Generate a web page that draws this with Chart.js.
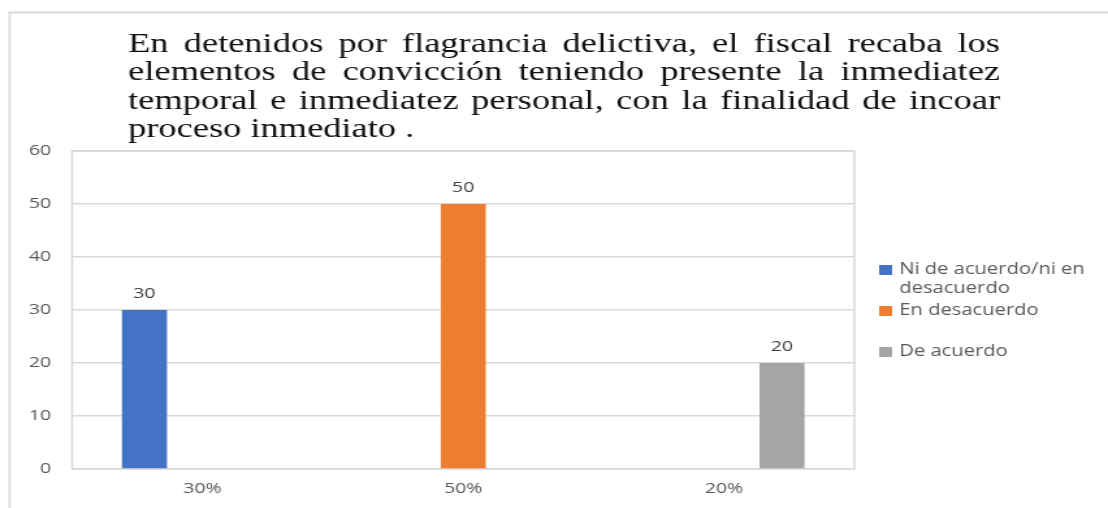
<!DOCTYPE html>
<html><head><meta charset="utf-8">
<script src="https://cdn.jsdelivr.net/npm/chart.js@4/dist/chart.umd.min.js"></script>
<style>
html,body{margin:0;padding:0;background:#fff;overflow:hidden;width:1108px;height:508px}
#wrap{position:absolute;left:0;top:0;width:852px;height:508px;transform:scaleX(1.3005);transform-origin:0 0}
canvas{display:block}
</style></head><body>
<div id="wrap"><canvas id="c" width="852" height="508"></canvas></div>
<script>
// ---- data ----
const titleLines = [
  'En detenidos por flagrancia delictiva, el fiscal recaba los',
  'elementos de convicción teniendo presente la inmediatez',
  'temporal e inmediatez personal, con la finalidad de incoar',
  'proceso inmediato .'
];
const categories = ['30%', '50%', '20%'];
const seriesNames = ['Ni de acuerdo/ni en desacuerdo', 'En desacuerdo', 'De acuerdo'];
const niDeAcuerdo = [30, null, null];
const enDesacuerdo = [null, 50, null];
const deAcuerdo = [null, null, 20];
const yMin = 0, yMax = 60, yStep = 10;

// ---- styles ----
const colors = ['#4472C4', '#ED7D31', '#A5A5A5'];
const GRID = '#d9d9d9';
const TXT = '#595959';
const SANS = '"Open Sans", "DejaVu Sans", sans-serif';

const framePlugin = {
  id: 'frame',
  beforeDraw(chart) {
    const ctx = chart.ctx;
    ctx.save();
    ctx.fillStyle = '#fff';
    ctx.fillRect(0, 0, chart.width, chart.height);
    ctx.fillStyle = GRID;
    ctx.fillRect(6.6, 11.5, 1.6, chart.height);
    ctx.fillRect(6.6, 11.5, chart.width, 2);
    ctx.restore();
  },
  beforeDatasetsDraw(chart) {
    const a = chart.chartArea, ctx = chart.ctx;
    ctx.save();
    ctx.strokeStyle = GRID;
    ctx.lineWidth = 1.5;
    ctx.strokeRect(a.left, a.top, a.right - a.left, a.bottom - a.top);
    ctx.restore();
  }
};

const titlePlugin = {
  id: 'justTitle',
  afterDraw(chart) {
    const ctx = chart.ctx;
    ctx.save();
    ctx.font = '28px "Liberation Serif", "Times New Roman", serif';
    ctx.fillStyle = '#111';
    ctx.textBaseline = 'alphabetic';
    const x0 = 98.5, x1 = 769, y0 = 52, lh = 28.4;
    const sp = ctx.measureText(' ').width;
    titleLines.forEach((line, li) => {
      const words = line.split(' ');
      const ws = words.map(w => ctx.measureText(w).width);
      const tot = ws.reduce((s, v) => s + v, 0);
      const last = li === titleLines.length - 1;
      const gap = last ? sp : (x1 - x0 - tot) / (words.length - 1);
      let x = x0;
      words.forEach((w, i) => { ctx.fillText(w, x, y0 + li * lh); x += ws[i] + gap; });
    });
    ctx.restore();
  }
};

const valuePlugin = {
  id: 'values',
  afterDatasetsDraw(chart) {
    const ctx = chart.ctx;
    ctx.save();
    ctx.font = '15px ' + SANS;
    ctx.fillStyle = '#404040';
    ctx.textAlign = 'center';
    ctx.textBaseline = 'middle';
    chart.data.datasets.forEach((ds, di) => {
      chart.getDatasetMeta(di).data.forEach((bar, i) => {
        const v = ds.data[i];
        if (v === null || v === undefined) return;
        ctx.fillText(String(v), bar.x, bar.y - 16);
      });
    });
    ctx.restore();
  }
};

const legendPlugin = {
  id: 'sideLegend',
  afterDraw(chart) {
    const ctx = chart.ctx;
    ctx.save();
    ctx.font = '15.5px ' + SANS;
    ctx.fillStyle = TXT;
    ctx.textBaseline = 'middle';
    const bx = 676, tx = 691.5, maxW = 155, lh = 19;
    const rowY = [270, 311, 352];
    chart.data.datasets.forEach((ds, i) => {
      const words = ds.label.split(' ');
      const lines = [];
      let cur = '';
      words.forEach(w => {
        const t = cur ? cur + ' ' + w : w;
        if (ctx.measureText(t).width > maxW && cur) { lines.push(cur); cur = w; } else cur = t;
      });
      lines.push(cur);
      const y = rowY[i];
      ctx.fillStyle = ds.backgroundColor;
      ctx.fillRect(bx, y - 5, 10, 10);
      ctx.fillStyle = TXT;
      lines.forEach((l, k) => ctx.fillText(l, tx, y + k * lh));
    });
    ctx.restore();
  }
};

new Chart(document.getElementById('c'), {
  type: 'bar',
  data: {
    labels: categories,
    datasets: [
      { label: seriesNames[0], data: niDeAcuerdo, backgroundColor: colors[0] },
      { label: seriesNames[1], data: enDesacuerdo, backgroundColor: colors[1] },
      { label: seriesNames[2], data: deAcuerdo, backgroundColor: colors[2] }
    ]
  },
  options: {
    responsive: false,
    devicePixelRatio: 1,
    animation: false,
    categoryPercentage: 0.667,
    barPercentage: 0.776,
    layout: { padding: { top: 151, right: 195, left: 0, bottom: 0 } },
    plugins: { legend: { display: false }, title: { display: false }, tooltip: { enabled: false } },
    scales: {
      x: {
        grid: { display: false, drawTicks: false },
        border: { display: false },
        ticks: { color: TXT, font: { family: SANS, size: 15 }, padding: 11 },
        afterFit(s) { s.height = 39; }
      },
      y: {
        min: yMin, max: yMax,
        grid: { color: GRID, lineWidth: 1.5, drawTicks: false },
        border: { display: false },
        ticks: { stepSize: yStep, color: TXT, font: { family: SANS, size: 15 }, padding: 16 },
        afterFit(s) { s.width = 55.4; }
      }
    }
  },
  plugins: [framePlugin, titlePlugin, valuePlugin, legendPlugin]
});
</script>
</body></html>
